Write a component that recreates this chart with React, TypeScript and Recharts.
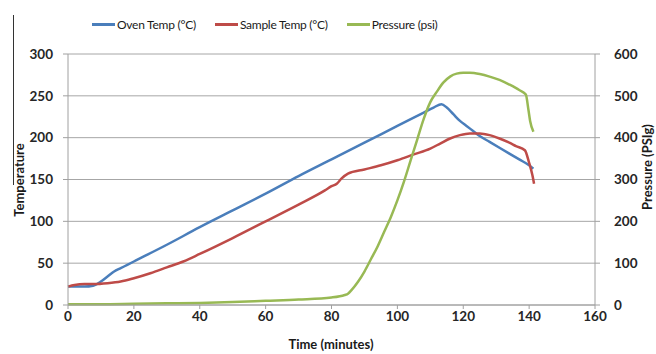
import { LineChart, Line, XAxis, YAxis, CartesianGrid } from 'recharts';

// Oven temperature (°C) over time (minutes)
const ovenTime = [0, 5, 7.6, 10, 12, 14, 16, 18, 20, 30, 40, 50, 60, 70, 80, 90, 100, 108, 111, 113.4, 115, 117, 119, 121, 123, 125, 128, 131, 134, 137, 140, 141.3];
const ovenTemp = [22, 22, 23, 28, 34, 40, 44, 48, 52, 72, 93, 113, 133, 154, 174, 194, 214, 230, 236, 240, 236, 228, 220, 214, 208, 202, 195, 188, 181, 174, 167, 163];

// Sample temperature (°C)
const sampleTime = [0, 2, 5, 8, 12, 16, 20, 25, 30, 35, 40, 50, 60, 70, 78, 80, 81.6, 83, 85, 90, 95, 100, 105, 110, 113, 116, 119, 122, 125, 128, 131, 134, 136, 138.7, 140, 141, 141.5];
const sampleTemp = [22, 24, 25, 25, 26, 28, 32, 38, 45, 52, 61, 80, 100, 120, 137, 142, 145, 151, 157, 162, 167, 173, 180, 187, 193, 199, 203, 205, 205, 203, 199, 194, 190, 185, 170, 155, 145];

// Pressure (psi)
const pressureTime = [0, 10, 20, 30, 40, 50, 60, 70, 80, 84, 85, 86, 88, 90, 92, 94, 96, 98, 100, 102, 104, 106, 108, 110, 112, 114, 116, 118, 120, 122, 125, 128, 131, 134, 137, 139, 139.8, 140.3, 141.3];
const pressure = [2, 2, 3, 4, 5, 7, 10, 13, 18, 24, 27, 35, 55, 80, 110, 140, 175, 210, 250, 295, 345, 395, 445, 485, 510, 532, 546, 553, 555, 555, 552, 546, 538, 527, 514, 503, 466, 440, 414];

const xTicks = [0, 20, 40, 60, 80, 100, 120, 140, 160];
const tempTicks = [0, 50, 100, 150, 200, 250, 300];
const pressureTicks = [0, 100, 200, 300, 400, 500, 600];

const COLORS = {
  oven: '#4a7ebb',
  sample: '#be4b48',
  pressure: '#98b954',
};

const ovenData = ovenTime.map((t, i) => ({ t, v: ovenTemp[i] }));
const sampleData = sampleTime.map((t, i) => ({ t, v: sampleTemp[i] }));
const pressureData = pressureTime.map((t, i) => ({ t, v: pressure[i] }));

const FONT = 'Lato, "Liberation Sans", sans-serif';
const tickStyle = { fontSize: 13.5, fontWeight: 700, fill: '#262626', fontFamily: FONT };
const titleStyle = { fontSize: 13, fontWeight: 700, fill: '#1a1a1a', fontFamily: FONT };

const legendItems = [
  { label: 'Oven Temp (°C)', color: COLORS.oven },
  { label: 'Sample Temp (°C)', color: COLORS.sample },
  { label: 'Pressure (psi)', color: COLORS.pressure },
];

export default function App() {
  return (
    <div style={{ position: 'absolute', left: 0, top: 0, width: 656, height: 354, background: '#fff', fontFamily: FONT }}>
      {/* stray border line from the original screenshot */}
      <div style={{ position: 'absolute', left: 13, top: 15, width: 1, height: 170, background: '#333' }} />
      <div style={{ position: 'absolute', left: 92, top: 17, display: 'flex', gap: 19, alignItems: 'center', fontSize: 12, letterSpacing: -0.25, color: '#1a1a1a' }}>
        {legendItems.map((it) => (
          <div key={it.label} style={{ display: 'flex', alignItems: 'center', gap: 2 }}>
            <div style={{ width: 23, height: 3, background: it.color }} />
            <span>{it.label}</span>
          </div>
        ))}
      </div>
      <LineChart width={656} height={354} margin={{ top: 54, right: 0, bottom: 0, left: 0 }}>
        <CartesianGrid vertical={false} stroke="#a6a6a6" yAxisId="left" />
        <XAxis
          type="number"
          dataKey="t"
          domain={[0, 160]}
          ticks={xTicks}
          allowDuplicatedCategory={false}
          height={49}
          stroke="#a0a0a0"
          tickSize={4}
          tickMargin={2}
          tick={tickStyle}
          label={() => (
            <text x={331} y={349} textAnchor="middle" style={titleStyle}>
              Time (minutes)
            </text>
          )}
        />
        <YAxis
          yAxisId="left"
          orientation="left"
          domain={[0, 300]}
          ticks={tempTicks}
          width={68}
          stroke="#a0a0a0"
          tickSize={5}
          tickMargin={10}
          tick={tickStyle}
          label={() => (
            <text x={19} y={180} transform="rotate(-90 19 180)" textAnchor="middle" dominantBaseline="central" style={titleStyle}>
              Temperature
            </text>
          )}
        />
        <YAxis
          yAxisId="right"
          orientation="right"
          domain={[0, 600]}
          ticks={pressureTicks}
          width={61}
          stroke="#a0a0a0"
          tickSize={5}
          tickMargin={14}
          tick={{ ...tickStyle, textAnchor: 'start' }}
          label={() => (
            <text x={647} y={167} transform="rotate(-90 647 167)" textAnchor="middle" dominantBaseline="central" style={titleStyle}>
              Pressure (PSIg)
            </text>
          )}
        />
        <Line yAxisId="left" data={ovenData} dataKey="v" type="monotone" stroke={COLORS.oven} strokeWidth={2.5} dot={false} isAnimationActive={false} />
        <Line yAxisId="left" data={sampleData} dataKey="v" type="monotone" stroke={COLORS.sample} strokeWidth={2.5} dot={false} isAnimationActive={false} />
        <Line yAxisId="right" data={pressureData} dataKey="v" type="monotone" stroke={COLORS.pressure} strokeWidth={2.5} dot={false} isAnimationActive={false} />
      </LineChart>
    </div>
  );
}
